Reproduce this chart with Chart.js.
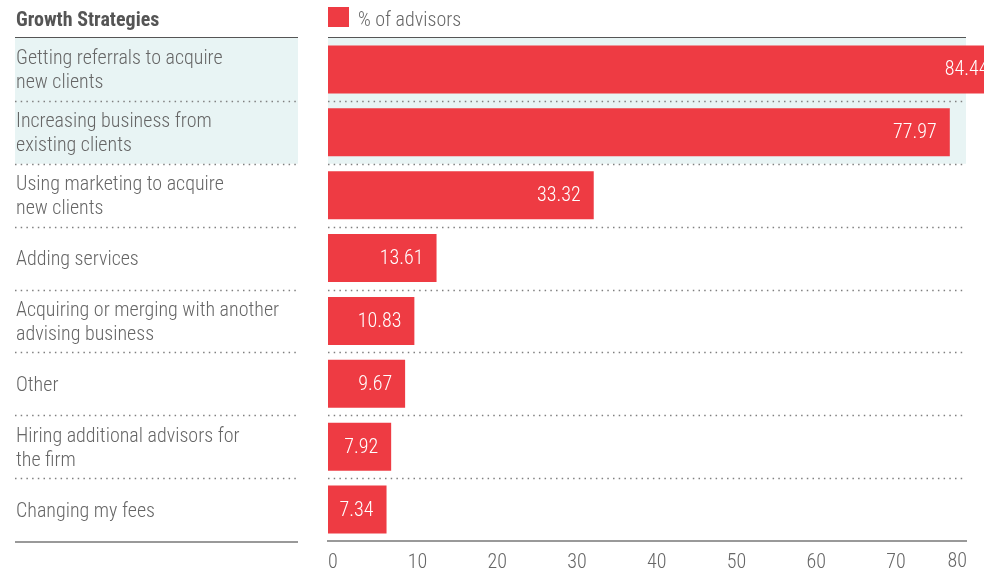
<!DOCTYPE html>
<html>
<head>
<meta charset="utf-8">
<script src="https://cdn.jsdelivr.net/npm/chart.js@4/dist/chart.umd.min.js"></script>
<style>
  html, body { margin: 0; padding: 0; background: #fff; }
  #wrap { width: 984px; height: 573px; }
</style>
</head>
<body>
<div id="wrap"><canvas id="growthChart"></canvas></div>
<script>
const strategies = [
  ['Getting referrals to acquire', 'new clients'],
  ['Increasing business from', 'existing clients'],
  ['Using marketing to acquire', 'new clients'],
  'Adding services',
  ['Acquiring or merging with another', 'advising business'],
  'Other',
  ['Hiring additional advisors for', 'the firm'],
  'Changing my fees'
];
const advisorShare = [84.44, 77.97, 33.32, 13.61, 10.83, 9.67, 7.92, 7.34];
const shareTicks = [0, 10, 20, 30, 40, 50, 60, 70, 80];
const highlightedRows = [0, 1];

const FONT = "'Roboto Condensed', 'DejaVu Sans Condensed', sans-serif";
const TEXT = '#666';
const RED = '#ee3b43';
const LABEL_COL = [15, 298];

Chart.defaults.font.family = FONT;
Chart.defaults.font.size = 20;
Chart.defaults.font.weight = 300;
Chart.defaults.color = TEXT;

// header, highlight band and row separators (left label column + plot)
const tableFrame = {
  id: 'tableFrame',
  beforeDraw(chart) {
    const { ctx, chartArea: a } = chart;
    const y = chart.scales.y;
    const half = (y.getPixelForValue(1) - y.getPixelForValue(0)) / 2;
    const cols = [LABEL_COL, [a.left, a.right]];
    const rowTop = i => y.getPixelForValue(i) - half;

    ctx.save();
    // highlight band
    const hTop = rowTop(highlightedRows[0]);
    const hBot = rowTop(highlightedRows[highlightedRows.length - 1] + 1);
    ctx.fillStyle = '#e8f4f4';
    cols.forEach(([l, r]) => ctx.fillRect(l, hTop, r - l, hBot - hTop));

    // dotted separators
    ctx.strokeStyle = '#808080';
    ctx.lineWidth = 1.5;
    ctx.setLineDash([1.5, 4.2]);
    for (let i = 1; i < strategies.length; i++) {
      const py = Math.round(rowTop(i)) + 0.5;
      cols.forEach(([l, r]) => {
        ctx.beginPath(); ctx.moveTo(l, py); ctx.lineTo(r, py); ctx.stroke();
      });
    }
    ctx.setLineDash([]);

    // header rule
    ctx.strokeStyle = '#555';
    ctx.lineWidth = 1.2;
    cols.forEach(([l, r]) => {
      ctx.beginPath(); ctx.moveTo(l, a.top - 0.5); ctx.lineTo(r, a.top - 0.5); ctx.stroke();
    });

    // bottom rule under the label column
    ctx.strokeStyle = '#999';
    ctx.lineWidth = 2;
    ctx.beginPath(); ctx.moveTo(LABEL_COL[0], a.bottom + 1); ctx.lineTo(LABEL_COL[1], a.bottom + 1); ctx.stroke();

    // column title + legend
    ctx.textBaseline = 'alphabetic';
    ctx.textAlign = 'left';
    ctx.fillStyle = '#555';
    ctx.font = 'bold 20px ' + FONT;
    ctx.fillText('Growth Strategies', 16, 26);
    ctx.fillStyle = RED;
    ctx.fillRect(a.left, 7, 21, 20);
    ctx.fillStyle = TEXT;
    ctx.font = '300 20px ' + FONT;
    ctx.fillText(chart.data.datasets[0].label, a.left + 30, 26);
    ctx.restore();
  },
  afterDatasetsDraw(chart) {
    const { ctx } = chart;
    const meta = chart.getDatasetMeta(0);
    const values = chart.data.datasets[0].data;
    ctx.save();
    ctx.fillStyle = '#fff';
    ctx.font = '300 20px ' + FONT;
    ctx.textAlign = 'right';
    ctx.textBaseline = 'middle';
    meta.data.forEach((bar, i) => {
      ctx.fillText(values[i].toFixed(2), bar.x - 13, bar.y + 1);
    });
    ctx.restore();
  },
  afterDraw(chart) {
    // last x tick sits flush with the axis end
    const { ctx, chartArea: a } = chart;
    const x = chart.scales.x;
    const last = shareTicks[shareTicks.length - 1];
    ctx.save();
    ctx.fillStyle = TEXT;
    ctx.font = '300 20px ' + FONT;
    ctx.textAlign = 'right';
    ctx.textBaseline = 'top';
    ctx.fillText(String(last), x.getPixelForValue(last) + 1, a.bottom + 11);
    ctx.restore();
  }
};

new Chart(document.getElementById('growthChart'), {
  type: 'bar',
  data: {
    labels: strategies,
    datasets: [{
      label: '% of advisors',
      data: advisorShare,
      backgroundColor: RED,
      borderWidth: 0,
      barPercentage: 0.765,
      categoryPercentage: 1,
      clip: false
    }]
  },
  plugins: [tableFrame],
  options: {
    indexAxis: 'y',
    responsive: true,
    maintainAspectRatio: false,
    animation: false,
    layout: { padding: { top: 38, right: 18, left: 16, bottom: 0 } },
    plugins: {
      legend: { display: false },
      tooltip: { enabled: false }
    },
    scales: {
      x: {
        min: 0,
        max: 80,
        afterBuildTicks: s => { s.ticks = shareTicks.map(v => ({ value: v })); },
        afterFit: s => { s.height = 32; },
        grid: { display: false, drawTicks: false },
        border: { display: true, color: '#999', width: 2 },
        ticks: {
          align: 'start',
          padding: 10,
          maxRotation: 0,
          autoSkip: false,
          callback: (v, i) => (i === shareTicks.length - 1 ? '' : String(v))
        }
      },
      y: {
        afterFit: s => { s.width = 312; },
        grid: { display: false, drawTicks: false },
        border: { display: false },
        ticks: {
          crossAlign: 'far',
          autoSkip: false,
          labelOffset: 2,
          font: { size: 20, lineHeight: 1.2 }
        }
      }
    }
  }
});
</script>
</body>
</html>
